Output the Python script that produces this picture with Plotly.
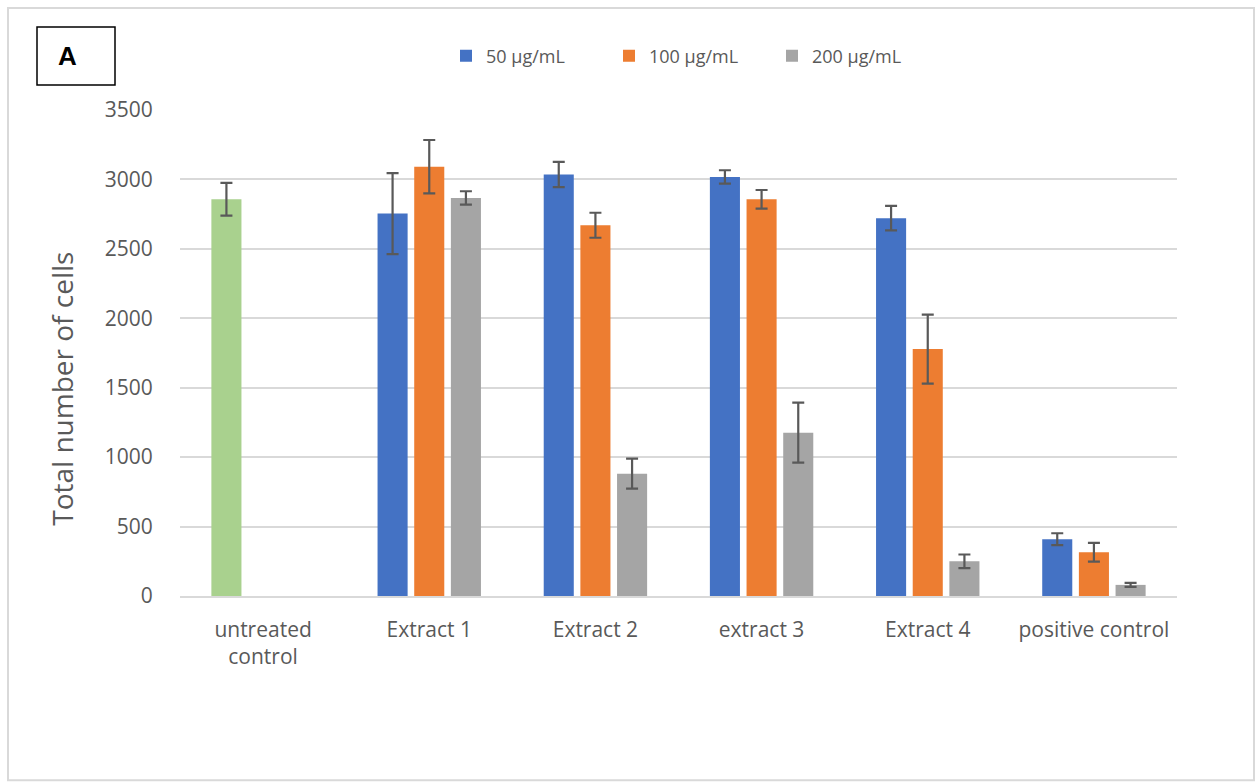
import plotly.graph_objects as go

# ---- data -------------------------------------------------------------
categories = ["untreated<br>control", "Extract 1", "Extract 2",
              "extract 3", "Extract 4", "positive control"]

untreated_value = 2857
untreated_err = 118

conc_50 = [2754, 3035, 3018, 2721, 409]
err_50 = [292, 91, 48, 88, 43]
conc_100 = [3092, 2670, 2857, 1778, 315]
err_100 = [192, 90, 67, 248, 67]
conc_200 = [2867, 881, 1176, 250, 80]
err_200 = [48, 108, 216, 49, 15]

series_names = ["50 \u00b5g/mL", "100 \u00b5g/mL", "200 \u00b5g/mL"]
y_ticks = [0, 500, 1000, 1500, 2000, 2500, 3000, 3500]

# ---- styling ----------------------------------------------------------
W, H = 1256, 783
L, R, T, B = 180, 1177, 110, 596.5
FONT = "Open Sans"
TXT = "#595959"
GRID = "#d9d9d9"
ERR = "#595959"
BLUE, ORANGE, GRAY, GREEN = "#4472C4", "#ED7D31", "#A5A5A5", "#A9D18E"


def px_x(x):
    return (x - L) / (R - L)


def px_y(y):
    return (B - y) / (B - T)


def err_bar(vals):
    return dict(type="data", array=vals, visible=True, color=ERR,
                thickness=2.2, width=6)


fig = go.Figure()

# the untreated control shares the first slot of each group with the 50 µg/mL bars
fig.add_bar(x=categories[:1], y=[untreated_value], name="untreated control",
            offsetgroup="g50", showlegend=False,
            marker=dict(color=GREEN, line=dict(width=0)),
            error_y=err_bar([untreated_err]))
fig.add_bar(x=categories[1:], y=conc_50, name=series_names[0], offsetgroup="g50",
            marker=dict(color=BLUE, line=dict(width=0)),
            error_y=err_bar(err_50))
fig.add_bar(x=categories[1:], y=conc_100, name=series_names[1], offsetgroup="g100",
            marker=dict(color=ORANGE, line=dict(width=0)),
            error_y=err_bar(err_100))
fig.add_bar(x=categories[1:], y=conc_200, name=series_names[2], offsetgroup="g200",
            marker=dict(color=GRAY, line=dict(width=0)),
            error_y=err_bar(err_200))

fig.update_layout(
    width=W, height=H,
    margin=dict(l=L, r=W - R, t=T, b=H - B, pad=0),
    paper_bgcolor="white", plot_bgcolor="white",
    barmode="group", bargap=0.338, bargroupgap=0.18,
    font=dict(family=FONT, color=TXT, size=21),
    showlegend=True,
    legend=dict(orientation="h", x=px_x(446), y=px_y(56), xanchor="left",
                yanchor="middle", font=dict(size=18, color=TXT),
                entrywidth=118, entrywidthmode="pixels",
                bgcolor="rgba(0,0,0,0)", traceorder="normal"),
)

fig.update_xaxes(categoryorder="array", categoryarray=categories,
                 showline=True, linecolor=GRID, linewidth=1.5,
                 ticks="outside", ticklen=14, tickcolor="rgba(0,0,0,0)",
                 tickfont=dict(size=21, color=TXT))
fig.update_yaxes(range=[0, 3500], tickvals=y_ticks, showgrid=True,
                 gridcolor=GRID, gridwidth=1.5, zeroline=False,
                 showline=False, ticks="outside", ticklen=22,
                 tickcolor="rgba(0,0,0,0)", tickfont=dict(size=21, color=TXT))

# axis title
fig.add_annotation(text="Total number of cells", xref="paper", yref="paper",
                   x=px_x(62), y=px_y(389), textangle=-90, showarrow=False,
                   font=dict(size=28, color=TXT), xanchor="center", yanchor="middle")

# panel letter
fig.add_shape(type="rect", xref="paper", yref="paper",
              x0=px_x(37), x1=px_x(115), y0=px_y(27), y1=px_y(85),
              line=dict(color="black", width=1.5), fillcolor="white")
fig.add_annotation(text="<b>A</b>", xref="paper", yref="paper",
                   x=px_x(67.5), y=px_y(56), showarrow=False,
                   font=dict(family="Liberation Sans", size=26, color="black"),
                   xanchor="center", yanchor="middle")

# frame around the whole chart
fig.add_shape(type="rect", xref="paper", yref="paper",
              x0=px_x(8), x1=px_x(1254), y0=px_y(8), y1=px_y(781),
              line=dict(color=GRID, width=2), layer="below")

fig.write_html("out.html")
